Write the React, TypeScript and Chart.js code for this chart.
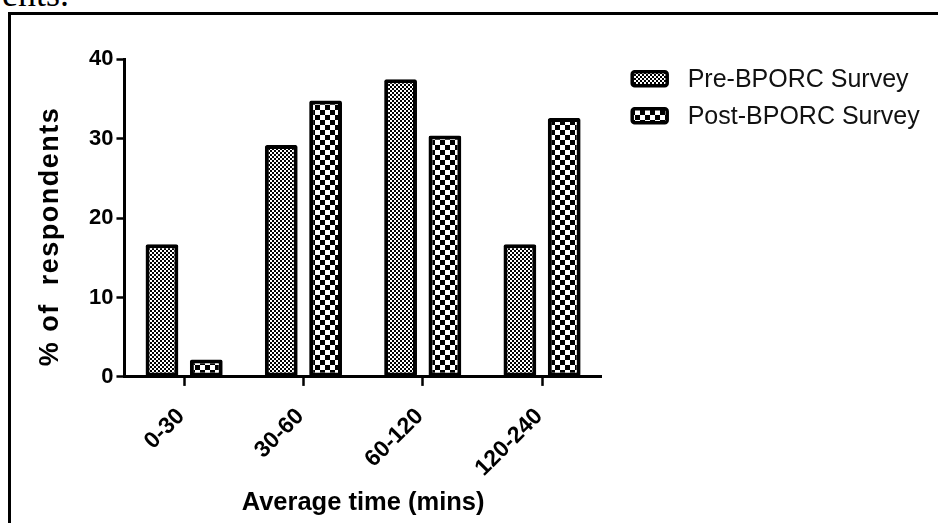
import React, { useEffect, useRef } from 'react';
import { Chart, registerables } from 'chart.js';

Chart.register(...registerables);

const categories = ['0-30', '30-60', '60-120', '120-240'];
const preSurvey = [16.7, 29.2, 37.5, 16.7];
const postSurvey = [2.2, 34.8, 30.4, 32.6];
const seriesNames = ['Pre-BPORC Survey', 'Post-BPORC Survey'];
const yTicks = [0, 10, 20, 30, 40];
const xTitle = 'Average time (mins)';
const yTitle = '% of  respondents';

const FAMILY = '"Liberation Sans", Arial, Helvetica, sans-serif';

function makePattern(kind: 'fine' | 'coarse'): CanvasPattern | string {
  const tile = document.createElement('canvas');
  const size = kind === 'fine' ? 4 : 10;
  tile.width = size;
  tile.height = size;
  const t = tile.getContext('2d');
  if (!t) return '#888';
  t.fillStyle = '#fff';
  t.fillRect(0, 0, size, size);
  t.fillStyle = '#000';
  if (kind === 'fine') {
    t.fillRect(0, 0, 2, 2);
    t.fillRect(2, 2, 2, 2);
  } else {
    t.fillRect(0, 0, 5, 5);
    t.fillRect(5, 5, 5, 5);
  }
  return t.createPattern(tile, 'repeat') ?? '#888';
}

const figurePlugin = {
  id: 'figureText',
  afterDraw(chart: any) {
    const { ctx, chartArea } = chart;
    ctx.save();
    // legend
    const lx = chartArea.right + 29;
    chart.data.datasets.forEach((ds: any, i: number) => {
      const cy = chartArea.top + 21 + i * 37;
      ctx.beginPath();
      if (ctx.roundRect) ctx.roundRect(lx + 1.5, cy - 8.5, 35, 14, 2.5);
      else ctx.rect(lx + 1.5, cy - 8.5, 35, 14);
      ctx.fillStyle = ds.backgroundColor;
      ctx.fill();
      ctx.lineWidth = 3.5;
      ctx.strokeStyle = '#000';
      ctx.stroke();
      ctx.fillStyle = '#111';
      ctx.font = `25px ${FAMILY}`;
      ctx.textAlign = 'left';
      ctx.textBaseline = 'middle';
      ctx.fillText(ds.label, lx + 57, cy);
    });
    // x title
    ctx.fillStyle = '#000';
    ctx.font = `bold 25.5px ${FAMILY}`;
    ctx.textAlign = 'center';
    ctx.textBaseline = 'alphabetic';
    ctx.fillText(xTitle, (chartArea.left + chartArea.right) / 2, chartArea.bottom + 133.5);
    // y title
    ctx.translate(chartArea.left - 73.7, (chartArea.top + chartArea.bottom) / 2 + 18.5);
    ctx.rotate(-Math.PI / 2);
    ctx.font = `bold 27px ${FAMILY}`;
    try {
      (ctx as any).letterSpacing = '1.5px';
    } catch (e) {
      /* ignore */
    }
    ctx.textAlign = 'center';
    ctx.textBaseline = 'middle';
    ctx.fillText(yTitle, 0, 0);
    ctx.restore();
  },
};

export default function App() {
  const canvasRef = useRef<HTMLCanvasElement | null>(null);

  useEffect(() => {
    const canvas = canvasRef.current;
    if (!canvas) return;
    const fine = makePattern('fine');
    const coarse = makePattern('coarse');
    const common = {
      borderColor: '#000',
      borderWidth: 4,
      borderSkipped: false as const,
      borderRadius: 2,
      categoryPercentage: 0.743,
      barPercentage: 0.74,
    };
    const chart = new Chart(canvas, {
      type: 'bar',
      data: {
        labels: categories,
        datasets: [
          { label: seriesNames[0], data: preSurvey, backgroundColor: fine as any, ...common },
          { label: seriesNames[1], data: postSurvey, backgroundColor: coarse as any, ...common },
        ],
      },
      options: {
        responsive: false,
        animation: false,
        devicePixelRatio: 1,
        layout: { padding: { left: 86, top: 59.3, right: 336.3, bottom: 23.9 } },
        plugins: {
          legend: { display: false },
          tooltip: { enabled: false },
          title: { display: false },
        },
        scales: {
          x: {
            type: 'category',
            offset: true,
            grid: {
              display: true,
              drawOnChartArea: false,
              drawTicks: true,
              offset: false,
              tickLength: 9,
              tickWidth: 2.5,
              color: '#000',
            },
            border: { display: true, color: '#000', width: 3 },
            ticks: {
              color: '#000',
              font: { family: FAMILY, size: 23, weight: 'bold' },
              minRotation: 45,
              maxRotation: 45,
              autoSkip: false,
              padding: 17,
              labelOffset: -3,
            },
          },
          y: {
            min: 0,
            max: 40,
            afterBuildTicks: (axis: any) => {
              axis.ticks = yTicks.map((v) => ({ value: v }));
            },
            grid: {
              display: true,
              drawOnChartArea: false,
              drawTicks: true,
              tickLength: 8,
              tickWidth: 2.5,
              color: '#000',
            },
            border: { display: true, color: '#000', width: 3 },
            ticks: {
              color: '#000',
              font: { family: FAMILY, size: 22, weight: 'bold' },
              padding: 3,
            },
          },
        },
      },
      plugins: [figurePlugin],
    });
    return () => chart.destroy();
  }, []);

  return (
    <div
      style={{
        position: 'fixed',
        left: 0,
        top: 0,
        width: 938,
        height: 523,
        overflow: 'hidden',
        background: '#fff',
      }}
    >
      <span
        style={{
          position: 'absolute',
          left: 2,
          top: -24,
          fontFamily: '"Liberation Serif", "Times New Roman", serif',
          fontSize: 36,
          lineHeight: '36px',
          color: '#000',
          whiteSpace: 'nowrap',
        }}
      >
        ents.
      </span>
      <div
        style={{
          position: 'absolute',
          left: 8,
          top: 12,
          width: 1200,
          height: 900,
          borderLeft: '3px solid #000',
          borderTop: '3px solid #000',
          boxSizing: 'border-box',
        }}
      />
      <canvas
        ref={canvasRef}
        width={938}
        height={523}
        style={{ position: 'absolute', left: 0, top: 0, width: 938, height: 523 }}
      />
    </div>
  );
}
